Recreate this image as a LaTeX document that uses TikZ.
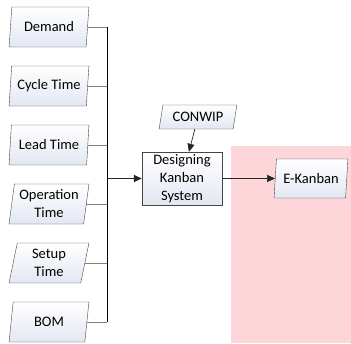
\documentclass[tikz,border=0pt]{standalone}
\usepackage{fontspec}
\setmainfont{Carlito}
\usetikzlibrary{shapes.geometric,arrows.meta,positioning,calc}
\definecolor{pinkarea}{RGB}{253,214,218}
\definecolor{edge}{RGB}{70,70,70}
\definecolor{boxend}{RGB}{226,231,242}

\begin{document}
\begin{tikzpicture}[x=1pt, y=-1pt, node distance=59pt,
    font=\fontsize{14.5}{18}\selectfont,
    datain/.style={draw=edge, trapezium, trapezium stretches=true,
        trapezium left angle=81, trapezium right angle=99,
        top color=white, bottom color=boxend,
        minimum width=80pt, minimum height=40pt, inner sep=1pt, align=center},
    process/.style={draw=edge, rectangle, top color=white, bottom color=boxend,
        minimum width=80pt, minimum height=53pt, inner sep=1pt, align=center},
    feed/.style={draw=gray, line width=0.8pt},
    flow/.style={draw=black!85, line width=0.7pt, -{Triangle[length=8pt,width=7pt]}}]
    \useasboundingbox (0,0) rectangle (351,343);
    \fill[pinkarea] (231,146) rectangle (351,343);

    \node (demand) [datain] at (49,27) {Demand};
    \node (cycle) [datain, below of=demand] {Cycle Time};
    \node (lead) [datain, below of=cycle] {Lead Time};
    \node (operation) [datain, below of=lead] {Operation\\Time};
    \node (setup) [datain, below of=operation] {Setup\\Time};
    \node (bom) [datain, below of=setup] {BOM};

    \node (system) [process] at (182,178.5) {Designing\\Kanban\\System};
    \node (conwip) [datain, minimum width=78pt, minimum height=24pt,
        trapezium left angle=76, trapezium right angle=104] at (198,117) {CONWIP};
    \node (ekanban) [datain, right of=system, node distance=129pt,
        minimum width=74pt, minimum height=39pt] {E-Kanban};
    \coordinate (bus) at (107,178.5);

    \foreach \src in {demand,cycle,lead,operation,setup,bom}
        \draw [feed] (\src.east) -- (\src.east -| bus);
    \draw [line width=1pt] (demand.east -| bus) -- (bom.east -| bus);
    \draw [flow, line width=1.6pt] (bus) -- (system);
    \draw [flow] (conwip) -- (system);
    \draw [flow] (system) -- (ekanban);
\end{tikzpicture}
\end{document}
